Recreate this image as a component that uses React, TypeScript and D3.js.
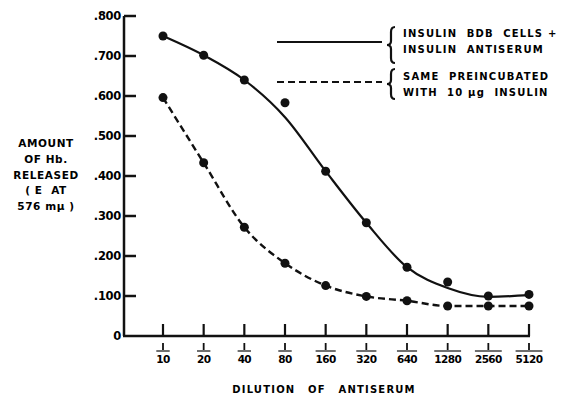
import React, { useEffect, useRef } from 'react';
import * as d3 from 'd3';

// dilution of antiserum (1:x)
const dilutions = [10, 20, 40, 80, 160, 320, 640, 1280, 2560, 5120];
// insulin BDB cells + insulin antiserum (measured points)
const solidPoints = [0.75, 0.702, 0.64, 0.583, 0.412, 0.283, 0.172, 0.135, 0.1, 0.104];
// hand-drawn smooth curve through the solid series
const solidCurve = [0.75, 0.702, 0.64, 0.547, 0.412, 0.283, 0.172, 0.12, 0.098, 0.102];
// same preincubated with 10 µg insulin
const dashedPoints = [0.596, 0.433, 0.272, 0.182, 0.126, 0.099, 0.088, 0.075, 0.075, 0.075];
const yTicks = [0, 0.1, 0.2, 0.3, 0.4, 0.5, 0.6, 0.7, 0.8];
const yTickLabels = ['0', '.100', '.200', '.300', '.400', '.500', '.600', '.700', '.800'];
const yTitle = ['AMOUNT', 'OF Hb.', 'RELEASED', '( E  AT', '576 mμ )'];
const legendSolid = ['INSULIN  BDB  CELLS +', 'INSULIN  ANTISERUM'];
const legendDashed = ['SAME  PREINCUBATED', 'WITH  10 μg  INSULIN'];

const FONT = '"DejaVu Sans", "Liberation Sans", sans-serif';

const App = () => {
  const ref = useRef<SVGSVGElement>(null);

  useEffect(() => {
    const svg = d3.select(ref.current);
    svg.selectAll('*').remove();

    const x = d3.scaleLog().base(2).domain([10, 5120]).range([163, 529]);
    const y = d3.scaleLinear().domain([0, 0.8]).range([336, 16]);
    const axisX = 124;

    const g = svg.append('g').attr('font-family', FONT).attr('font-weight', 'bold');

    // y axis
    g.append('line')
      .attr('x1', axisX).attr('x2', axisX)
      .attr('y1', y(0)).attr('y2', y(0.8))
      .attr('stroke', '#111').attr('stroke-width', 2.5);

    g.selectAll('.ytick')
      .data(yTicks.filter(d => d > 0))
      .enter().append('line')
      .attr('x1', axisX).attr('x2', axisX + 12)
      .attr('y1', d => y(d)).attr('y2', d => y(d))
      .attr('stroke', '#111').attr('stroke-width', 2.5);

    g.selectAll('.ylabel')
      .data(yTicks)
      .enter().append('text')
      .attr('x', axisX - 3)
      .attr('y', d => y(d))
      .attr('dy', '0.35em')
      .attr('text-anchor', 'end')
      .attr('font-size', 11.5)
      .attr('letter-spacing', -0.3)
      .text((d, i) => yTickLabels[i]);

    // x axis
    g.append('line')
      .attr('x1', axisX - 1).attr('x2', x(5120) + 1)
      .attr('y1', y(0)).attr('y2', y(0))
      .attr('stroke', '#111').attr('stroke-width', 2.5);

    g.selectAll('.xtick')
      .data(dilutions)
      .enter().append('line')
      .attr('x1', d => x(d)).attr('x2', d => x(d))
      .attr('y1', y(0) - 12).attr('y2', y(0))
      .attr('stroke', '#111').attr('stroke-width', 2.2);

    // tick labels, each with a small bar and overline
    const xl = g.selectAll('.xlabel')
      .data(dilutions)
      .enter().append('g')
      .attr('transform', d => `translate(${x(d)},0)`);

    xl.append('line')
      .attr('x1', 0).attr('x2', 0)
      .attr('y1', 343).attr('y2', 350)
      .attr('stroke', '#111').attr('stroke-width', 1.8);

    xl.append('text')
      .attr('y', 363)
      .attr('text-anchor', 'middle')
      .attr('font-size', 10.5)
      .attr('letter-spacing', -0.6)
      .text(d => String(d))
      .each(function () {
        const w = (this as SVGTextElement).getComputedTextLength();
        d3.select((this as SVGTextElement).parentNode as SVGGElement)
          .append('line')
          .attr('x1', -w / 2).attr('x2', w / 2)
          .attr('y1', 351).attr('y2', 351)
          .attr('stroke', '#111').attr('stroke-width', 1.2);
      });

    g.append('text')
      .attr('x', 324).attr('y', 393)
      .attr('text-anchor', 'middle')
      .attr('font-size', 10)
      .attr('letter-spacing', 1.2)
      .attr('word-spacing', 8)
      .text('DILUTION OF ANTISERUM');

    // y title
    g.selectAll('.ytitle')
      .data(yTitle)
      .enter().append('text')
      .attr('x', 46)
      .attr('y', (d, i) => 147 + i * 15.8)
      .attr('text-anchor', 'middle')
      .attr('font-size', 10.5)
      .attr('letter-spacing', 0.6)
      .style('white-space', 'pre')
      .text(d => d);

    // curves
    const line = d3.line<number>()
      .x((d, i) => x(dilutions[i]))
      .y(d => y(d))
      .curve(d3.curveMonotoneX);

    g.append('path')
      .attr('d', line(solidCurve))
      .attr('fill', 'none')
      .attr('stroke', '#111')
      .attr('stroke-width', 2.2);

    g.append('path')
      .attr('d', line(dashedPoints))
      .attr('fill', 'none')
      .attr('stroke', '#111')
      .attr('stroke-width', 2.4)
      .attr('stroke-dasharray', '7,4');

    g.selectAll('.solid-dot')
      .data(solidPoints)
      .enter().append('circle')
      .attr('cx', (d, i) => x(dilutions[i]))
      .attr('cy', d => y(d))
      .attr('r', 4.5)
      .attr('fill', '#111');

    g.selectAll('.dashed-dot')
      .data(dashedPoints)
      .enter().append('circle')
      .attr('cx', (d, i) => x(dilutions[i]))
      .attr('cy', d => y(d))
      .attr('r', 4.5)
      .attr('fill', '#111');

    // legend
    const brace = (bx: number, y0: number, y1: number) => {
      const ym = (y0 + y1) / 2;
      return `M${bx + 4},${y0} Q${bx},${y0} ${bx},${y0 + 5} L${bx},${ym - 4} Q${bx},${ym} ${bx - 4},${ym} ` +
        `Q${bx},${ym} ${bx},${ym + 4} L${bx},${y1 - 5} Q${bx},${y1} ${bx + 4},${y1}`;
    };

    const legend = [
      { dash: null, ly: 42, y0: 27, y1: 63, text: legendSolid, ty: 37 },
      { dash: '7,4', ly: 82, y0: 69, y1: 99, text: legendDashed, ty: 80 },
    ];

    legend.forEach(l => {
      g.append('line')
        .attr('x1', 277).attr('x2', 382)
        .attr('y1', l.ly).attr('y2', l.ly)
        .attr('stroke', '#111')
        .attr('stroke-width', 2.2)
        .attr('stroke-dasharray', l.dash);
      g.append('path')
        .attr('d', brace(391, l.y0, l.y1))
        .attr('fill', 'none')
        .attr('stroke', '#111')
        .attr('stroke-width', 2.2);
      l.text.forEach((t, i) => {
        g.append('text')
          .attr('x', 403)
          .attr('y', l.ty + i * 16)
          .attr('font-size', 10)
          .attr('letter-spacing', 1.2)
          .style('white-space', 'pre')
          .text(t);
      });
    });
  }, []);

  return (
    <svg
      ref={ref}
      width={563}
      height={396}
      style={{ position: 'absolute', left: 0, top: 0, background: '#fff' }}
    />
  );
};

export default App;
